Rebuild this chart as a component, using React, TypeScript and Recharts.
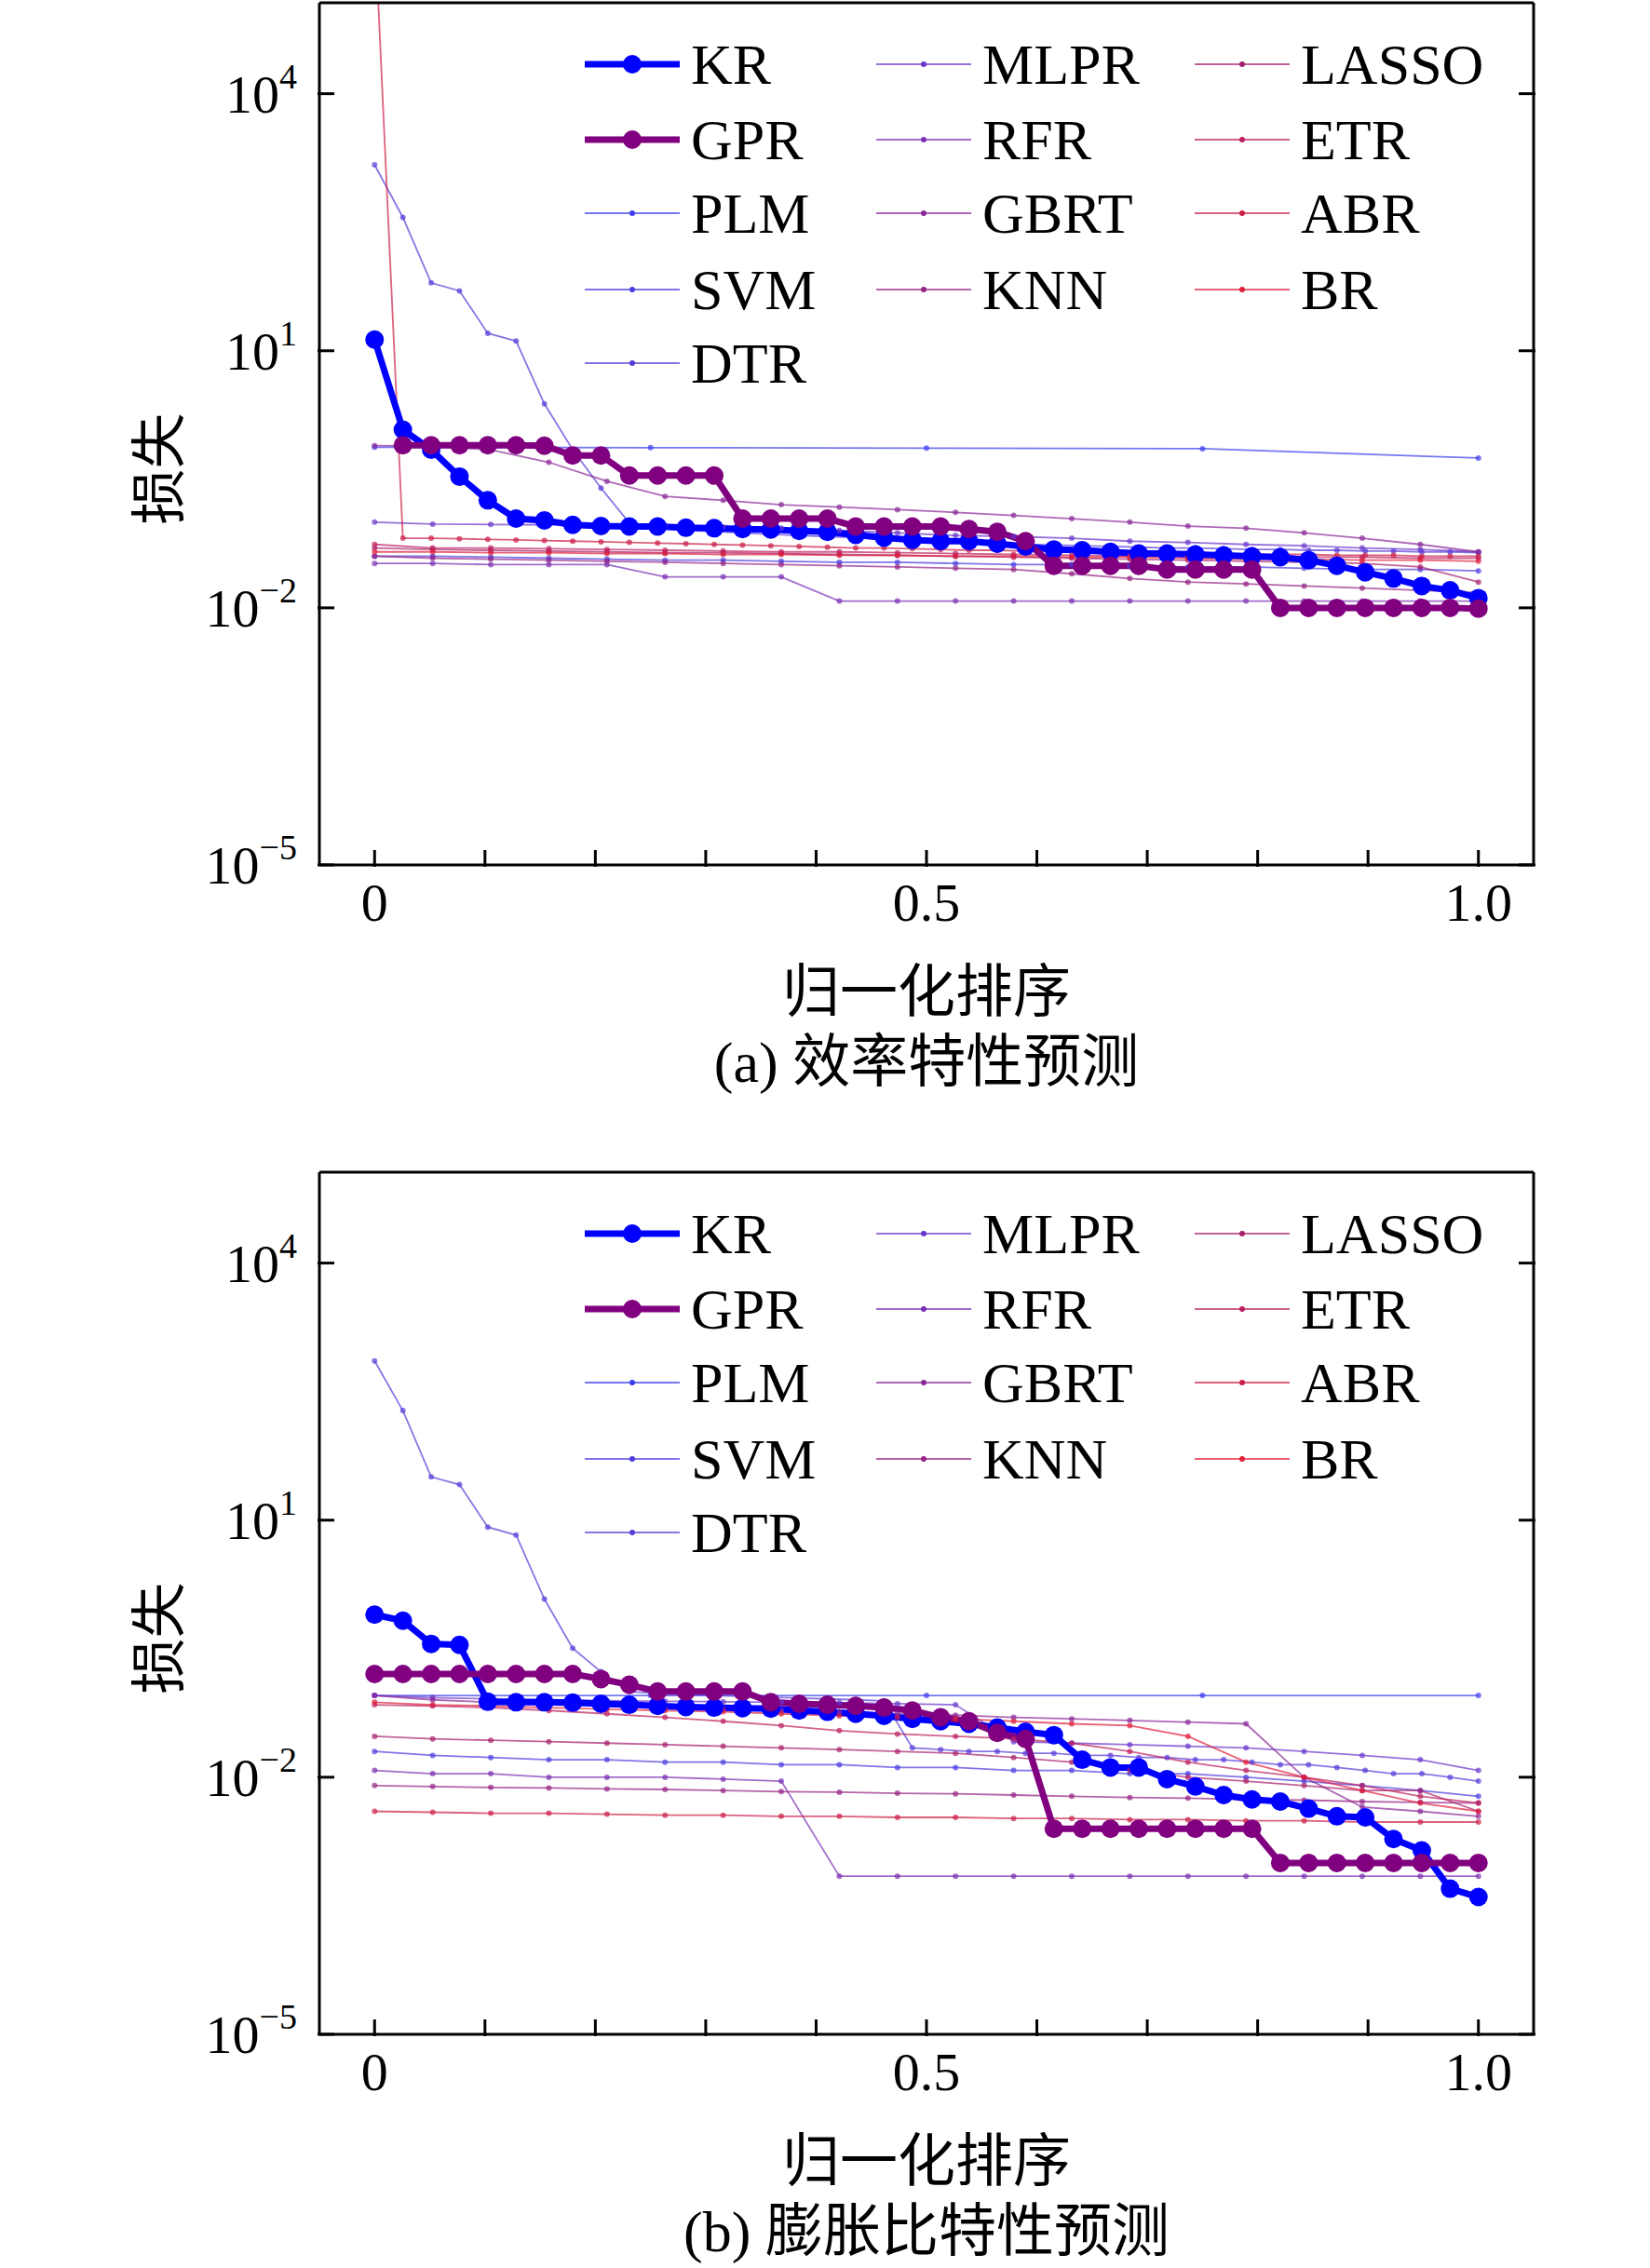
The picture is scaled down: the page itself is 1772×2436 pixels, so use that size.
import React from 'react';
import { LineChart, Line, XAxis, YAxis } from 'recharts';

const names = ['KR', 'GPR', 'PLM', 'SVM', 'DTR', 'MLPR', 'RFR', 'GBRT', 'KNN', 'LASSO', 'ETR', 'ABR', 'BR'];
const colors = ['#0000ff', '#800080', '#3c3cf0', '#4a3ce0', '#5a3ad8', '#6a36cc', '#7a30b4', '#8a2898', '#962484', '#a8206c', '#bc2060', '#cc2048', '#e0203c'];

// panel (a)
const krA = [13.5, 1.2, 0.7, 0.34, 0.18, 0.11, 0.105, 0.093, 0.09, 0.089, 0.089, 0.086, 0.085, 0.083, 0.082, 0.079, 0.077, 0.071, 0.066, 0.062, 0.06, 0.06, 0.056, 0.052, 0.048, 0.047, 0.045, 0.043, 0.043, 0.042, 0.041, 0.04, 0.039, 0.036, 0.031, 0.026, 0.022, 0.018, 0.016, 0.013];
const gprA = [null, 0.79, 0.79, 0.79, 0.79, 0.79, 0.78, 0.6, 0.6, 0.35, 0.35, 0.35, 0.35, 0.11, 0.11, 0.11, 0.11, 0.089, 0.089, 0.089, 0.089, 0.083, 0.077, 0.06, 0.031, 0.031, 0.031, 0.031, 0.028, 0.028, 0.028, 0.028, 0.01, 0.01, 0.01, 0.01, 0.01, 0.01, 0.01, 0.0098];
const plmA = [0.75, 0.74, 0.73, 0.72, 0.56];
const svmA = [0.04, 0.04, 0.039, 0.038, 0.037, 0.036, 0.036, 0.035, 0.034, 0.034, 0.033, 0.032, 0.032, 0.031, 0.03, 0.03, 0.029, 0.028, 0.028, 0.027];
const dtrA = [1480, 360, 62, 50, 16, 13, 2.4, 0.7, 0.25, 0.098, 0.085, 0.08, 0.078, 0.075, 0.072, 0.07, 0.068, 0.066, 0.064, 0.062, 0.06, 0.058, 0.056, 0.055, 0.054, 0.053, 0.052, 0.051, 0.05, 0.05, 0.049, 0.048, 0.048, 0.047, 0.047, 0.046, 0.046, 0.045, 0.045, 0.044];
const mlprA = [0.1, 0.095, 0.094, 0.093, 0.092, 0.09, 0.088, 0.085, 0.08, 0.075, 0.07, 0.068, 0.065, 0.06, 0.058, 0.055, 0.053, 0.05, 0.048, 0.045];
const rfrA = [0.033, 0.033, 0.032, 0.032, 0.032, 0.023, 0.023, 0.023, 0.012, 0.012, 0.012, 0.012, 0.012, 0.012, 0.012, 0.012, 0.012, 0.012, 0.012, 0.012];
const gbrtA = [0.78, 0.77, 0.7, 0.5, 0.3, 0.2, 0.18, 0.16, 0.15, 0.14, 0.13, 0.12, 0.11, 0.1, 0.09, 0.085, 0.075, 0.065, 0.055, 0.045];
const knnA = [0.04, 0.038, 0.037, 0.036, 0.035, 0.034, 0.033, 0.032, 0.031, 0.03, 0.029, 0.028, 0.025, 0.022, 0.02, 0.019, 0.018, 0.017, 0.016, 0.015];
const lassoA = [0.05, 0.048, 0.047, 0.046, 0.045, 0.044, 0.044, 0.043, 0.042, 0.041, 0.04, 0.039, 0.038, 0.037, 0.036, 0.035, 0.034, 0.033, 0.03, 0.02];
const etrA = [0.055, 0.05, 0.05, 0.049, 0.048, 0.047, 0.046, 0.045, 0.045, 0.044, 0.043, 0.042, 0.041, 0.04, 0.04, 0.04, 0.039, 0.039, 0.038, 0.038];
const abrA = [1e6, 0.065, 0.065, 0.064, 0.063, 0.062, 0.061, 0.06, 0.059, 0.058, 0.057, 0.056, 0.055, 0.054, 0.053, 0.052, 0.051, 0.05, 0.05, 0.049, 0.048, 0.047, 0.047, 0.046, 0.046, 0.045, 0.045, 0.044, 0.044, 0.043, 0.043, 0.042, 0.042, 0.042, 0.041, 0.041, 0.041, 0.04, 0.04, 0.04];
const brA = [0.045, 0.045, 0.044, 0.044, 0.043, 0.043, 0.042, 0.042, 0.041, 0.041, 0.04, 0.04, 0.039, 0.039, 0.038, 0.037, 0.037, 0.036, 0.036, 0.035];

// panel (b)
const krB = [0.79, 0.67, 0.36, 0.35, 0.076, 0.075, 0.075, 0.074, 0.072, 0.07, 0.068, 0.066, 0.065, 0.064, 0.063, 0.06, 0.058, 0.055, 0.052, 0.048, 0.045, 0.042, 0.038, 0.034, 0.031, 0.016, 0.013, 0.013, 0.0095, 0.0078, 0.0062, 0.0055, 0.0052, 0.0043, 0.0035, 0.0034, 0.0019, 0.0014, 0.0005, 0.0004];
const gprB = [0.16, 0.16, 0.16, 0.16, 0.16, 0.16, 0.16, 0.16, 0.14, 0.12, 0.1, 0.1, 0.1, 0.1, 0.075, 0.072, 0.07, 0.068, 0.065, 0.06, 0.05, 0.045, 0.033, 0.028, 0.0025, 0.0025, 0.0025, 0.0025, 0.0025, 0.0025, 0.0025, 0.0025, 0.001, 0.001, 0.001, 0.001, 0.001, 0.001, 0.001, 0.001];
const plmB = [0.09, 0.09, 0.09, 0.09, 0.09];
const svmB = [0.02, 0.018, 0.017, 0.016, 0.016, 0.015, 0.015, 0.014, 0.014, 0.013, 0.013, 0.012, 0.012, 0.011, 0.011, 0.01, 0.009, 0.008, 0.007, 0.006];
const dtrB = [720, 190, 32, 26, 8.3, 6.7, 1.2, 0.32, 0.17, 0.1, 0.095, 0.092, 0.09, 0.088, 0.086, 0.084, 0.082, 0.08, 0.078, 0.022, 0.021, 0.02, 0.02, 0.019, 0.019, 0.018, 0.018, 0.017, 0.017, 0.016, 0.016, 0.015, 0.014, 0.014, 0.013, 0.012, 0.011, 0.011, 0.01, 0.009];
const mlprB = [0.09, 0.085, 0.082, 0.08, 0.078, 0.077, 0.076, 0.075, 0.074, 0.072, 0.07, 0.026, 0.025, 0.024, 0.023, 0.022, 0.02, 0.018, 0.016, 0.012];
const rfrB = [0.012, 0.011, 0.011, 0.01, 0.01, 0.01, 0.0095, 0.009, 0.0007, 0.0007, 0.0007, 0.0007, 0.0007, 0.0007, 0.0007, 0.0007, 0.0007, 0.0007, 0.0007, 0.0007];
const gbrtB = [0.09, 0.08, 0.075, 0.07, 0.068, 0.065, 0.063, 0.06, 0.058, 0.055, 0.053, 0.05, 0.048, 0.046, 0.044, 0.042, 0.01, 0.0045, 0.004, 0.0035];
const knnB = [0.008, 0.0078, 0.0076, 0.0075, 0.0073, 0.0072, 0.007, 0.0068, 0.0067, 0.0065, 0.0064, 0.0062, 0.006, 0.0058, 0.0057, 0.0055, 0.0054, 0.0052, 0.0051, 0.005];
const lassoB = [0.03, 0.028, 0.027, 0.026, 0.025, 0.024, 0.023, 0.022, 0.021, 0.02, 0.019, 0.017, 0.015, 0.012, 0.01, 0.009, 0.008, 0.007, 0.007, 0.004];
const etrB = [0.07, 0.068, 0.065, 0.06, 0.055, 0.05, 0.045, 0.04, 0.035, 0.032, 0.03, 0.028, 0.025, 0.02, 0.015, 0.012, 0.01, 0.008, 0.006, 0.005];
const abrB = [0.004, 0.0039, 0.0038, 0.0038, 0.0037, 0.0036, 0.0036, 0.0035, 0.0035, 0.0034, 0.0034, 0.0033, 0.0033, 0.0032, 0.0032, 0.0031, 0.0031, 0.003, 0.003, 0.003];
const brB = [0.075, 0.07, 0.068, 0.065, 0.062, 0.06, 0.058, 0.055, 0.052, 0.05, 0.048, 0.045, 0.042, 0.04, 0.03, 0.015, 0.01, 0.007, 0.005, 0.004];

const seriesA = [krA, gprA, plmA, svmA, dtrA, mlprA, rfrA, gbrtA, knnA, lassoA, etrA, abrA, brA];
const seriesB = [krB, gprB, plmB, svmB, dtrB, mlprB, rfrB, gbrtB, knnB, lassoB, etrB, abrB, brB];

const xTicks = [0, 0.1, 0.2, 0.3, 0.4, 0.5, 0.6, 0.7, 0.8, 0.9, 1];
const xLabels: Record<string, string> = { '0': '0', '0.5': '0.5', '1': '1.0' };
const yTicks = [1e-5, 1e-2, 1e1, 1e4];
const yExp: Record<string, string> = { '0.00001': '−5', '0.01': '−2', '10': '1', '10000': '4' };

const SERIF = '"Liberation Serif", "Times New Roman", serif';
const CJK = '"Liberation Serif", "Noto Sans CJK SC", serif';
const TL = 18;

const toPts = (arr: (number | null)[]) => arr.map((v, i) => ({ x: i / (arr.length - 1), y: v }));

const XTickB = (p: any) => {
  const lab = xLabels[String(p.payload.value)];
  return (
    <g>
      <line x1={p.x} x2={p.x} y1={p.y} y2={p.y - TL} stroke="#000" strokeWidth={3} />
      {lab && <text x={p.x} y={p.y + 58} textAnchor="middle" fontFamily={SERIF} fontSize={58}>{lab}</text>}
    </g>
  );
};
const XTickT = (p: any) => <line x1={p.x} x2={p.x} y1={p.y} y2={p.y + TL} stroke="#000" strokeWidth={3} />;
const YTickL = (p: any) => (
  <g>
    <line x1={p.x} x2={p.x + TL} y1={p.y} y2={p.y} stroke="#000" strokeWidth={3} />
    <text x={p.x - 22} y={p.y + 20} textAnchor="end" fontFamily={SERIF} fontSize={58}>
      10<tspan dy={-26} fontSize={38}>{yExp[String(p.payload.value)]}</tspan>
    </text>
  </g>
);
const YTickR = (p: any) => <line x1={p.x} x2={p.x - TL} y1={p.y} y2={p.y} stroke="#000" strokeWidth={3} />;

const Legend = () => {
  const cols = [[0, 1, 2, 3, 4], [5, 6, 7, 8], [9, 10, 11, 12]];
  const lx = [628, 941, 1283];
  const rows = [69, 150, 229, 311, 390];
  return (
    <svg width={1772} height={440} style={{ position: 'absolute', left: 0, top: 0 }}>
      {cols.map((c, ci) =>
        c.map((s, ri) => {
          const big = s < 2;
          const y = rows[ri];
          const x0 = lx[ci];
          return (
            <g key={s}>
              <rect x={x0 + 110} y={y - 34} width={big ? 110 : 220} height={68} fill="#fff" />
              <line x1={x0} x2={x0 + 102} y1={y} y2={y} stroke={colors[s]} strokeWidth={big ? 7 : 1.8} opacity={big ? 1 : 0.7} />
              <circle cx={x0 + 51} cy={y} r={big ? 10 : 3} fill={colors[s]} />
              <text x={x0 + 114} y={y + 21} fontFamily={SERIF} fontSize={62}>{names[s]}</text>
            </g>
          );
        })
      )}
    </svg>
  );
};

const Panel = ({ series, top, caption }: { series: (number | null)[][]; top: number; caption: string }) => (
  <div style={{ position: 'absolute', left: 0, top, width: 1772, height: 1180 }}>
    <LineChart width={1772} height={1000} margin={{ top: 2, right: 124, bottom: 0, left: 0 }}>
      <XAxis xAxisId="b" dataKey="x" type="number" domain={[-0.05, 1.05]} ticks={xTicks} height={71}
        axisLine={{ stroke: '#000', strokeWidth: 3 }} tickLine={false} tickSize={0} tick={<XTickB />} interval={0} />
      <XAxis xAxisId="t" orientation="top" dataKey="x" type="number" domain={[-0.05, 1.05]} ticks={xTicks} height={1}
        axisLine={{ stroke: '#000', strokeWidth: 3 }} tickLine={false} tickSize={0} tick={<XTickT />} interval={0} />
      <YAxis yAxisId="l" scale="log" type="number" domain={[1e-5, 1.15e5]} ticks={yTicks} width={343} allowDataOverflow
        axisLine={{ stroke: '#000', strokeWidth: 3 }} tickLine={false} tickSize={0} tick={<YTickL />} interval={0} />
      <YAxis yAxisId="r" orientation="right" scale="log" type="number" domain={[1e-5, 1.15e5]} ticks={yTicks} width={1} allowDataOverflow
        axisLine={{ stroke: '#000', strokeWidth: 3 }} tickLine={false} tickSize={0} tick={<YTickR />} interval={0} />
      {series.map((arr, s) => s < 2 ? null : (
        <Line key={names[s]} xAxisId="b" yAxisId="l" data={toPts(arr)} dataKey="y" stroke={colors[s]} strokeWidth={1.8} strokeOpacity={0.7}
          dot={{ r: 3, fill: colors[s], stroke: 'none', fillOpacity: 0.7 }} isAnimationActive={false} />
      ))}
      {[0, 1].map(s => (
        <Line key={names[s]} xAxisId="b" yAxisId="l" data={toPts(series[s])} dataKey="y" stroke={colors[s]} strokeWidth={7}
          dot={{ r: 10, fill: colors[s], stroke: 'none' }} isAnimationActive={false} />
      ))}
    </LineChart>
    <Legend />
    <div style={{ position: 'absolute', left: 95, top: 460, transform: 'rotate(-90deg)', transformOrigin: 'center', fontFamily: CJK, fontSize: 60, width: 140, textAlign: 'center' }}>损失</div>
    <div style={{ position: 'absolute', left: 0, width: 1990, top: 1015, textAlign: 'center', fontFamily: CJK, fontSize: 62 }}>归一化排序</div>
    <div style={{ position: 'absolute', left: 0, width: 1990, top: 1090, textAlign: 'center', fontFamily: CJK, fontSize: 62 }}>{caption}</div>
  </div>
);

export default function App() {
  return (
    <div style={{ position: 'relative', width: 1772, height: 2436, background: '#fff' }}>
      <style>{'body{margin:0}'}</style>
      <Panel series={seriesA} top={0} caption="(a) 效率特性预测" />
      <Panel series={seriesB} top={1256} caption="(b) 膨胀比特性预测" />
    </div>
  );
}
